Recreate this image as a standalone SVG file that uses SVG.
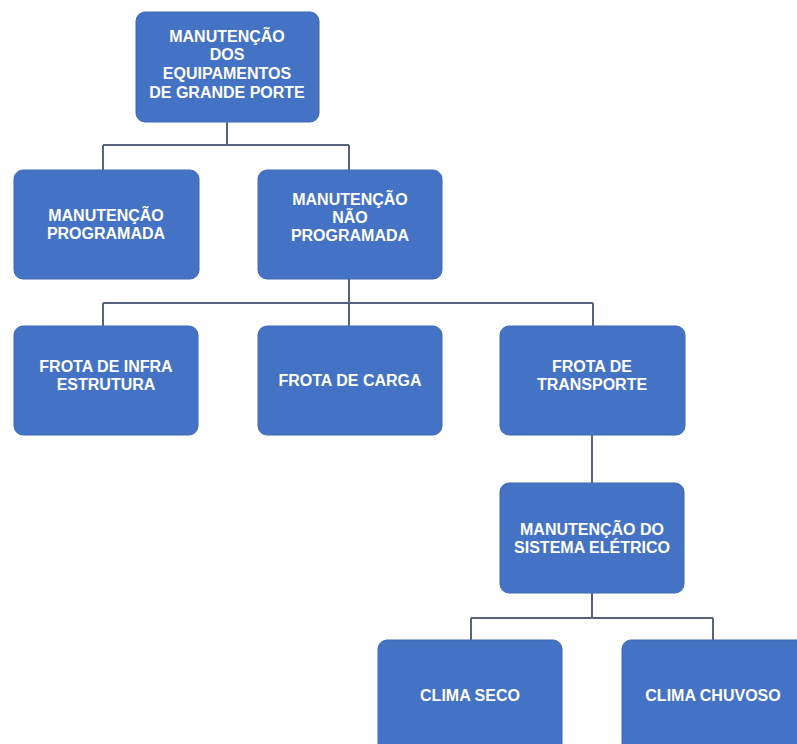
<svg xmlns="http://www.w3.org/2000/svg" width="797" height="744" viewBox="0 0 797 744">
<style>
.box{fill:#4472C4;stroke:#3F69B5;stroke-width:1}
.t{font-family:"Liberation Sans",Arial,sans-serif;font-weight:bold;font-size:16px;fill:#FFFFFF;text-anchor:middle}
.c{fill:none;stroke:#56627E;stroke-width:2}
</style>
<rect width="797" height="744" fill="#FFFFFF"/>
<g id="connectors">
<path class="c" d="M227 122 V145 M103 145 H349 M103 145 V170 M349 145 V170"/>
<path class="c" d="M349 279 V303 M103 303 H593 M103 303 V326 M349 303 V326 M593 303 V326"/>
<path class="c" d="M592 435 V483"/>
<path class="c" d="M592 593 V618 M471 618 H713 M471 618 V640 M713 618 V640"/>
</g>
<g id="n-root">
<rect class="box" x="136" y="12" width="183" height="110" rx="9"/>
<text class="t" x="227" y="41.5">MANUTENÇÃO</text>
<text class="t" x="227" y="60">DOS</text>
<text class="t" x="227" y="79">EQUIPAMENTOS</text>
<text class="t" x="227" y="98">DE GRANDE PORTE</text>
</g>
<g id="n-programada">
<rect class="box" x="14" y="170" width="185" height="109" rx="9"/>
<text class="t" x="106" y="221">MANUTENÇÃO</text>
<text class="t" x="106" y="239">PROGRAMADA</text>
</g>
<g id="n-nao-programada">
<rect class="box" x="258" y="170" width="184" height="109" rx="9"/>
<text class="t" x="350" y="205">MANUTENÇÃO</text>
<text class="t" x="350" y="223">NÃO</text>
<text class="t" x="350" y="241">PROGRAMADA</text>
</g>
<g id="n-infra">
<rect class="box" x="14" y="326" width="184" height="109" rx="9"/>
<text class="t" x="106" y="372">FROTA DE INFRA</text>
<text class="t" x="106" y="390">ESTRUTURA</text>
</g>
<g id="n-carga">
<rect class="box" x="258" y="326" width="184" height="109" rx="9"/>
<text class="t" x="350" y="386">FROTA DE CARGA</text>
</g>
<g id="n-transporte">
<rect class="box" x="500" y="326" width="185" height="109" rx="9"/>
<text class="t" x="592" y="372">FROTA DE</text>
<text class="t" x="592" y="390">TRANSPORTE</text>
</g>
<g id="n-eletrico">
<rect class="box" x="500" y="483" width="184" height="110" rx="9"/>
<text class="t" x="592" y="535">MANUTENÇÃO DO</text>
<text class="t" x="592" y="553">SISTEMA ELÉTRICO</text>
</g>
<g id="n-seco">
<rect class="box" x="378" y="640" width="184" height="112" rx="9"/>
<text class="t" x="470" y="701">CLIMA SECO</text>
</g>
<g id="n-chuvoso">
<rect class="box" x="622" y="640" width="184" height="112" rx="9"/>
<text class="t" x="713" y="701">CLIMA CHUVOSO</text>
</g>
</svg>
